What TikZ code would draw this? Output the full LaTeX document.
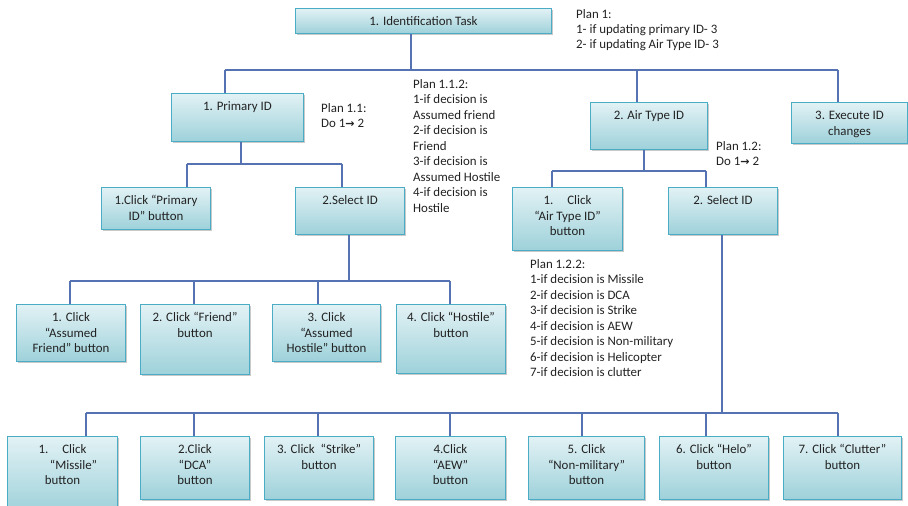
\documentclass[tikz,border=0pt]{standalone}
\usepackage{fontspec}
\setmainfont{Carlito}
\newfontfamily\arrowfont{DejaVu Sans}
\usetikzlibrary{shadows}

\definecolor{boxedge}{HTML}{4BACC6}
\definecolor{boxtop}{HTML}{E2F2F5}
\definecolor{boxbot}{HTML}{9ED1DA}
\definecolor{linkcol}{HTML}{5573B3}
\definecolor{txt}{HTML}{222222}

\newcommand\boxfont{\fontsize{12.9}{15.5}\selectfont}
\newcommand\doarrow{{\arrowfont\bfseries\fontsize{11}{12}\selectfont →}}

\tikzset{
  taskbox/.style={draw=boxedge, line width=1pt, top color=boxtop,
    bottom color=boxbot, inner sep=0pt, text=txt,
    drop shadow={shadow xshift=1.6pt, shadow yshift=-1.6pt,
      opacity=0.3, fill=black!70}},
  link/.style={draw=linkcol, line width=1.3pt},
  plan/.style={anchor=base west, inner sep=0pt, text=txt},
}

% task box given by its left, top, right and bottom edges
\newcommand\tbox[6]{%
  \pgfmathsetmacro\bw{#4-#2}\pgfmathsetmacro\bh{#5-#3}%
  \node[taskbox, minimum width=\bw pt, minimum height=\bh pt,
        anchor=north west] (#1) at (#2,#3)
    {\parbox[c][\bh pt][t]{\bw pt}{\centering\boxfont\rule{0pt}{17pt}#6}};}

% plan text, placed by the baseline of its first line
\newcommand\plantext[1]{\parbox[t]{200pt}{\raggedright\boxfont #1}}

\begin{document}
\begin{tikzpicture}[x=1pt, y=-1pt]
\useasboundingbox (0,0) rectangle (908,506);

% ---- task boxes ----
\tbox{task}{295}{8}{551}{33}{1. Identification Task}
\tbox{pid}{171}{93}{303}{141}{1. Primary ID}
\tbox{air}{590}{102}{707}{149}{2. Air Type ID}
\tbox{exe}{791}{102}{907}{143}{3. Execute ID\\changes}
\tbox{cpid}{101}{187}{210}{229}{1.Click “Primary\\ID” button}
\tbox{selA}{295}{187}{404}{234}{2.Select ID}
\tbox{cair}{512}{187}{622}{250}{1.\hspace{14pt}Click\\“Air Type ID”\\button}
\tbox{selB}{668}{187}{777}{234}{2. Select ID}

\tbox{afr}{16}{304}{125}{361}{1. Click\\“Assumed\\Friend” button}
\tbox{fr}{140}{304}{249}{374}{2. Click “Friend”\\button}
\tbox{aho}{272}{304}{380}{361}{3. Click\\“Assumed\\Hostile” button}
\tbox{ho}{396}{304}{505}{373}{4. Click “Hostile”\\button}

\tbox{mis}{7}{436}{117}{512}{1.\hspace{14pt}Click\\\hspace{22pt}“Missile”\\button\hspace{6pt}}
\tbox{dca}{140}{436}{249}{499}{2.Click\\“DCA”\\button}
\tbox{str}{264}{436}{373}{499}{3. Click\ \ “Strike”\\button}
\tbox{aew}{395}{436}{505}{499}{4.Click\\“AEW”\\button}
\tbox{nm}{528}{436}{644}{499}{5. Click\\“Non-military”\\button}
\tbox{helo}{659}{436}{768}{499}{6. Click “Helo”\\button}
\tbox{clut}{783}{436}{901}{499}{7. Click “Clutter”\\button}

% ---- plans ----
\node[plan] (plan1) at (576,18) {\plantext{Plan 1:\\1- if updating primary ID- 3\\2- if updating Air Type ID- 3}};
\node[plan] (plan11) at (321,112) {\plantext{Plan 1.1:\\Do 1\doarrow\ 2}};
\node[plan] (plan112) at (413,88) {\plantext{Plan 1.1.2:\\1-if decision is\\Assumed friend\\2-if decision is\\Friend\\3-if decision is\\Assumed Hostile\\4-if decision is\\Hostile}};
\node[plan] (plan12) at (716,150) {\plantext{Plan 1.2:\\Do 1\doarrow\ 2}};
\node[plan] (plan122) at (530,268) {\plantext{Plan 1.2.2:\\1-if decision is Missile\\2-if decision is DCA\\3-if decision is Strike\\4-if decision is AEW\\5-if decision is Non-military\\6-if decision is Helicopter\\7-if decision is clutter}};

% ---- bus joints ----
\coordinate (tJ) at (411,70);
\coordinate (tL) at (225,70);
\coordinate (tA) at (637,70);
\coordinate (tR) at (838,70);

\coordinate (pJ) at (241,164);
\coordinate (pL) at (187,164);
\coordinate (pR) at (342,164);

\coordinate (aJ) at (644,171);
\coordinate (aL) at (552,171);
\coordinate (aR) at (706,171);

\coordinate (sJ) at (349,281);
\coordinate (s1) at (70,281);
\coordinate (s2) at (194,281);
\coordinate (s3) at (318,281);
\coordinate (s4) at (450,281);

\coordinate (bJ) at (722,413);
\coordinate (b1) at (86,413);
\coordinate (b2) at (194,413);
\coordinate (b3) at (318,413);
\coordinate (b4) at (450,413);
\coordinate (b5) at (582,413);
\coordinate (b6) at (706,413);
\coordinate (b7) at (838,413);

% ---- connectors ----
\draw[link] (task.south -| tJ) -- (tJ);
\draw[link] (tL) -- (tR);
\draw[link] (tL) -- (tL |- pid.north);
\draw[link] (tA) -- (tA |- air.north);
\draw[link] (tR) -- (tR |- exe.north);

\draw[link] (pid.south -| pJ) -- (pJ);
\draw[link] (pL) -- (pR);
\draw[link] (pL) -- (pL |- cpid.north);
\draw[link] (pR) -- (pR |- selA.north);

\draw[link] (air.south -| aJ) -- (aJ);
\draw[link] (aL) -- (aR);
\draw[link] (aL) -- (aL |- cair.north);
\draw[link] (aR) -- (aR |- selB.north);

\draw[link] (selA.south -| sJ) -- (sJ);
\draw[link] (s1) -- (s4);
\draw[link] (s1) -- (s1 |- afr.north);
\draw[link] (s2) -- (s2 |- fr.north);
\draw[link] (s3) -- (s3 |- aho.north);
\draw[link] (s4) -- (s4 |- ho.north);

\draw[link] (selB.south -| bJ) -- (bJ);
\draw[link] (b1) -- (b7);
\draw[link] (b1) -- (b1 |- mis.north);
\draw[link] (b2) -- (b2 |- dca.north);
\draw[link] (b3) -- (b3 |- str.north);
\draw[link] (b4) -- (b4 |- aew.north);
\draw[link] (b5) -- (b5 |- nm.north);
\draw[link] (b6) -- (b6 |- helo.north);
\draw[link] (b7) -- (b7 |- clut.north);
\end{tikzpicture}
\end{document}
